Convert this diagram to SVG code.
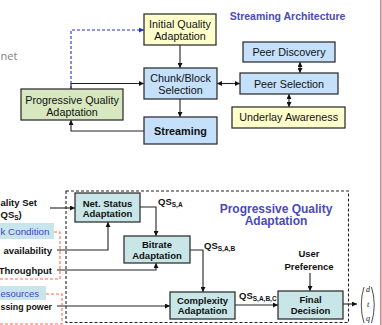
<svg xmlns="http://www.w3.org/2000/svg" width="382" height="325" viewBox="0 0 382 325">
<style>
text{font-family:"Liberation Sans",Arial,sans-serif}
.bx{stroke:#333;stroke-width:1.3}
.y{fill:#ffffcc}.b{fill:#c4e0fb}.g{fill:#d7e8c0}.t{fill:#c8e6e8}
.n{font-size:10.8px;fill:#111;text-anchor:middle}
.nb{font-size:9.5px;font-weight:bold;fill:#111;text-anchor:middle}
.lb{font-size:9.5px;font-weight:bold;fill:#111;text-anchor:end}
.ls{font-size:9.5px;font-weight:bold;fill:#111}
.ttl{font-weight:bold;fill:#4a4ab8;text-anchor:middle}
.ln{fill:none;stroke:#222;stroke-width:1.1}
.rd{fill:none;stroke:#ff6a50;stroke-width:1.1;stroke-dasharray:3,2}
.cat{fill:#4444cc}
.qs{font-size:9.5px;font-weight:bold;fill:#111}
.sub{font-size:6.5px}
</style>
<defs>
<marker id="ah" viewBox="0 0 6 6" refX="6" refY="3" markerWidth="5" markerHeight="5" orient="auto-start-reverse" markerUnits="userSpaceOnUse"><path d="M0,0L6,3L0,6z" fill="#111"/></marker>
<marker id="ahb" viewBox="0 0 6 6" refX="6" refY="3" markerWidth="5" markerHeight="5" orient="auto" markerUnits="userSpaceOnUse"><path d="M0,0L6,3L0,6z" fill="#2233bb"/></marker>
</defs>
<rect width="382" height="325" fill="#fff"/>
<line x1="380.8" y1="0" x2="380.8" y2="325" stroke="#d08080" stroke-width="1.5"/>
<text x="0.5" y="60" font-size="11" fill="#808080" style="font-family:'Open Sans',sans-serif">net</text>
<text class="ttl" x="287.5" y="19.5" font-size="10.5">Streaming Architecture</text>

<g id="connectors">
<path class="ln" d="M180,45V68" marker-end="url(#ah)"/>
<path class="ln" d="M180,99V117" marker-end="url(#ah)"/>
<path class="ln" d="M71,89V83.5H144" marker-end="url(#ah)"/>
<path d="M71,89V30H144" fill="none" stroke="#2233bb" stroke-width="1.1" stroke-dasharray="3,2" marker-end="url(#ahb)"/>
<path class="ln" d="M144,131H71V120" marker-end="url(#ah)"/>
<path class="ln" d="M217,83.5H240" marker-start="url(#ah)" marker-end="url(#ah)"/>
<path class="ln" d="M300,62V73" marker-start="url(#ah)" marker-end="url(#ah)"/>
<path class="ln" d="M289,94V107" marker-start="url(#ah)" marker-end="url(#ah)"/>
<path class="ln" d="M50,208H75" marker-end="url(#ah)"/>
<path class="ln" d="M57,250H108V222" marker-end="url(#ah)"/>
<path class="ln" d="M57,270H156V263" marker-end="url(#ah)"/>
<path class="ln" d="M140,207H156V236" marker-end="url(#ah)"/>
<path class="ln" d="M190,250H203V292" marker-end="url(#ah)"/>
<path class="ln" d="M57,306H170" marker-end="url(#ah)"/>
<path class="ln" d="M235,305H278" marker-end="url(#ah)"/>
<path class="ln" d="M310,273V291" marker-end="url(#ah)"/>
<path class="ln" d="M343,304H357" marker-end="url(#ah)"/>
<path class="rd" d="M54,232H60V279H0"/>
<path class="rd" d="M46,294H62V324H0"/>
</g>

<g id="initial-quality"><rect class="bx y" x="144" y="14" width="72" height="31"/><text class="n" x="180" y="27.5">Initial Quality</text><text class="n" x="180" y="39.5">Adaptation</text></g>
<g id="chunk-selection"><rect class="bx b" x="144" y="68" width="73" height="31"/><text class="n" x="180.5" y="81.5">Chunk/Block</text><text class="n" x="180.5" y="93.5">Selection</text></g>
<g id="streaming"><rect class="bx b" x="144" y="117" width="73" height="27"/><text class="n" x="180.5" y="134.5" font-weight="bold">Streaming</text></g>
<g id="progressive-quality"><rect class="bx g" x="21" y="89" width="102" height="31"/><text class="n" x="72" y="103.5">Progressive Quality</text><text class="n" x="72" y="115.5">Adaptation</text></g>
<g id="peer-discovery"><rect class="bx b" x="243" y="42" width="92" height="20"/><text class="n" x="289" y="56">Peer Discovery</text></g>
<g id="peer-selection"><rect class="bx b" x="240" y="73" width="98" height="21"/><text class="n" x="289" y="87.5">Peer Selection</text></g>
<g id="underlay-awareness"><rect class="bx y" x="232" y="107" width="113" height="21"/><text class="n" x="288.7" y="121">Underlay Awareness</text></g>

<g id="pqa-frame"><rect x="66" y="191" width="282.5" height="131.5" fill="none" stroke="#222" stroke-width="1.1" stroke-dasharray="3,2"/>
<text class="ttl" x="276" y="212.5" font-size="12">Progressive Quality</text><text class="ttl" x="276" y="225" font-size="12">Adaptation</text></g>

<g id="net-status"><rect class="bx t" x="75" y="193" width="65" height="29"/><text class="nb" x="107.5" y="206.5">Net. Status</text><text class="nb" x="107.5" y="217">Adaptation</text></g>
<g id="bitrate"><rect class="bx t" x="124" y="236" width="66" height="27"/><text class="nb" x="157" y="247.5">Bitrate</text><text class="nb" x="157" y="258.5">Adaptation</text></g>
<g id="complexity"><rect class="bx t" x="170" y="292" width="65" height="27"/><text class="nb" x="202.5" y="303.5">Complexity</text><text class="nb" x="202.5" y="314">Adaptation</text></g>
<g id="final-decision"><rect class="bx t" x="278" y="291" width="65" height="28"/><text class="nb" x="310.5" y="303">Final</text><text class="nb" x="310.5" y="314">Decision</text></g>

<g id="labels">
<text class="qs" x="158" y="205">QS<tspan class="sub" dy="2">S,A</tspan></text>
<text class="qs" x="204" y="249">QS<tspan class="sub" dy="2">S,A,B</tspan></text>
<text class="qs" x="239" y="299">QS<tspan class="sub" dy="2">S,A,B,C</tspan></text>
<text class="nb" x="309" y="257">User</text><text class="nb" x="309" y="269.5">Preference</text>
</g>

<g id="inputs">
<text class="ls" x="0.5" y="206" font-size="9">ality Set</text>
<text class="qs" x="0.5" y="217.5">QS<tspan class="sub" dy="2">S</tspan><tspan dy="-2">)</tspan></text>
<g id="net-condition"><rect x="-1" y="223" width="55" height="16" fill="#c8e6ea"/><text class="cat" x="0.5" y="235" font-size="9.8">k Condition</text></g>
<text class="lb" x="52" y="254">availability</text>
<text class="lb" x="52" y="274">Throughput</text>
<g id="resources"><rect x="-1" y="286" width="47" height="14" fill="#c8e6ea"/><text class="cat" x="0.5" y="297" font-size="9.5">esources</text></g>
<text class="ls" x="0.5" y="310" textLength="51.5" lengthAdjust="spacingAndGlyphs">ssing power</text>
</g>

<g id="output-vector">
<path d="M364,287Q358.5,305 364,323" fill="none" stroke="#222" stroke-width="0.8"/>
<path d="M371.5,287Q377,305 371.5,323" fill="none" stroke="#222" stroke-width="0.8"/>
<g font-style="italic" font-size="8" fill="#111" text-anchor="middle"><text x="368" y="292" style="font-family:'Liberation Serif',serif">d</text><text x="368" y="307" style="font-family:'Liberation Serif',serif">t</text><text x="368" y="321" style="font-family:'Liberation Serif',serif">q</text></g>
</g>
</svg>
